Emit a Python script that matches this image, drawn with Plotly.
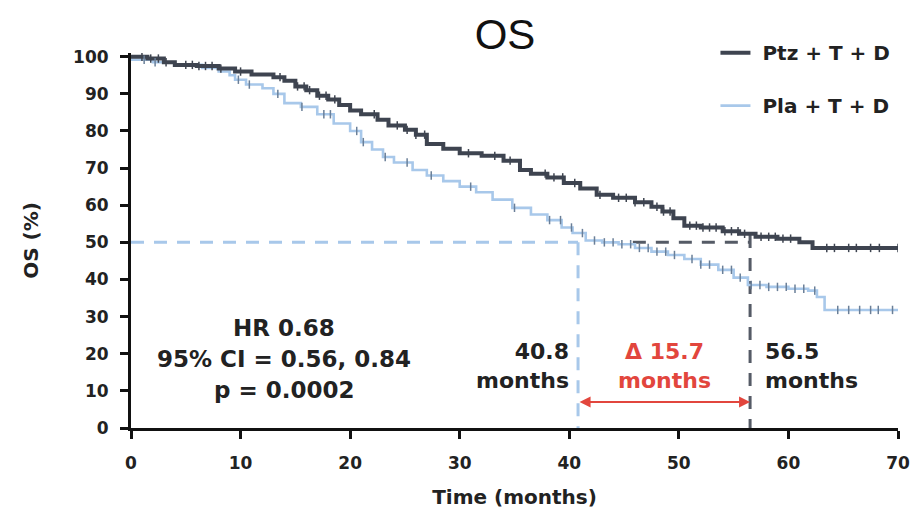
import numpy as np
import plotly.graph_objects as go

# ---------------- data ----------------
ptz_time = [0, 1.5, 3, 4, 6, 8, 9.5, 11, 13, 14, 15, 16, 17, 18, 19, 20, 21, 22.5, 23.5, 25,
            26, 27, 28.5, 30, 32, 34, 35.5, 36.5, 38, 39.5, 41, 42.5, 44, 46, 47.5, 48.5,
            49.5, 50.5, 52, 54, 55.5, 57, 59, 61, 62.2, 70]
ptz_surv = [100, 99.5, 98.5, 97.8, 97.5, 96.8, 96, 95.2, 94.5, 93.5, 92, 91, 89.5, 88.5, 87,
            85.5, 84.5, 83, 81.5, 80.3, 79, 76.5, 75.2, 74, 73.3, 72, 69.5, 68.5, 67.5, 66,
            64.5, 62.8, 62, 60.8, 59.6, 58.3, 56.5, 54.5, 54, 53, 52.3, 51.5, 51, 50, 48.5, 48.5]

pla_time = [0, 2, 4, 6.5, 8, 9, 9.5, 10.5, 12, 13, 14, 15.5, 17, 18.5, 20, 21, 22, 23, 24,
            25.7, 27, 28.5, 30, 31.5, 33, 34.8, 36.5, 38, 39.3, 40.3, 41.5, 43, 44.5, 46,
            47.5, 49, 50.5, 52, 53.6, 55, 56.3, 58, 60, 61.8, 62.6, 63.3, 70]
pla_surv = [99.2, 98.5, 97.8, 97, 96, 95, 93.8, 92.5, 91.5, 90, 87.5, 86.5, 84.5, 82, 80, 77,
            75, 73, 71.5, 69.5, 68, 66.5, 65, 63.5, 61.5, 59.3, 57.5, 56, 54, 52.5, 50.5, 50,
            49.5, 48.5, 47.5, 46.6, 45.5, 44, 42.6, 40.5, 38.5, 38, 37.5, 37, 35.3, 31.8, 31.8]

ptz_censor = [1, 1.8, 2.5, 3.2, 5, 5.6, 6.2, 6.8, 7.4, 8.2, 10, 13.6, 15.2, 15.8, 16.3, 17.2,
              17.8, 18.6, 22.2, 24.3, 25.2, 26, 26.8, 30.8, 33.2, 34.6, 37.8, 38.6, 39.4, 40.5,
              42.8, 44.5, 45.2, 46, 46.8, 48, 48.6, 49.2, 51, 51.6, 52.2, 52.8, 53.4, 54.2,
              54.8, 55.4, 56, 57.5, 58.2, 58.8, 59.5, 60.2, 63.5, 64.2, 65.5, 66.2, 67.5, 68.3, 70]
pla_censor = [1.2, 2.2, 9.8, 10.8, 13.4, 15.6, 17.6, 18.2, 20.6, 21.2, 23.2, 25.2, 27.4, 31,
              35, 38.2, 39.2, 40.2, 41.2, 42.3, 43.2, 44, 44.8, 45.6, 46.4, 47.2, 48, 48.8,
              49.6, 51.2, 52, 52.8, 54, 54.8, 55.6, 56.6, 57.4, 58.2, 59, 59.8, 60.6, 61.4,
              62.4, 64.5, 65.5, 66.5, 67.5, 68.2, 69.5]

median_pla = 40.8
median_ptz = 56.5
delta_months = 15.7
x_ticks = [0, 10, 20, 30, 40, 50, 60, 70]
y_ticks = [0, 10, 20, 30, 40, 50, 60, 70, 80, 90, 100]

DARK = "#3e4450"
LIGHT = "#a8c8ea"
LIGHT_TICK = "#6a7f98"
RED = "#e2463d"
FONT = "DejaVu Sans"
NB = "\u00a0"


def step_at(times, surv, pts):
    t = np.asarray(times)
    s = np.asarray(surv)
    idx = np.searchsorted(t, np.asarray(pts), side="right") - 1
    return s[np.clip(idx, 0, len(s) - 1)]


fig = go.Figure()

# reference dashed lines (median)
fig.add_trace(go.Scatter(x=[0, median_pla], y=[50, 50], mode="lines",
                         line=dict(color=LIGHT, width=3, dash="13px,10px"),
                         showlegend=False, hoverinfo="skip"))
fig.add_trace(go.Scatter(x=[median_pla, median_pla], y=[50, 0], mode="lines",
                         line=dict(color=LIGHT, width=3, dash="13px,10px"),
                         showlegend=False, hoverinfo="skip"))
fig.add_trace(go.Scatter(x=[median_pla + 5, median_ptz], y=[50, 50], mode="lines",
                         line=dict(color="#555b66", width=3, dash="13px,10px"),
                         showlegend=False, hoverinfo="skip"))
fig.add_trace(go.Scatter(x=[median_ptz, median_ptz], y=[52, 0], mode="lines",
                         line=dict(color="#555b66", width=3, dash="13px,10px"),
                         showlegend=False, hoverinfo="skip"))

# KM curves
fig.add_trace(go.Scatter(x=pla_time, y=pla_surv, mode="lines", line_shape="hv",
                         line=dict(color=LIGHT, width=2.6), name=f"<b>{NB}Pla + T + D</b>",
                         legendgroup="b", legendrank=2))
fig.add_trace(go.Scatter(x=ptz_time, y=ptz_surv, mode="lines", line_shape="hv",
                         line=dict(color=DARK, width=4), name=f"<b>{NB}Ptz + T + D</b>",
                         legendgroup="a", legendrank=1))

# censor marks
fig.add_trace(go.Scatter(x=pla_censor, y=step_at(pla_time, pla_surv, pla_censor), mode="markers",
                         marker=dict(symbol="line-ns", size=6, line=dict(color=LIGHT_TICK, width=1.5)),
                         showlegend=False, hoverinfo="skip"))
fig.add_trace(go.Scatter(x=ptz_censor, y=step_at(ptz_time, ptz_surv, ptz_censor), mode="markers",
                         marker=dict(symbol="line-ns", size=6, line=dict(color=DARK, width=1.5)),
                         showlegend=False, hoverinfo="skip"))

annotations = [
    dict(x=14, y=27, xref="x", yref="y", showarrow=False,
         text="<b>HR 0.68</b>", font=dict(family=FONT, size=23, color="#222")),
    dict(x=14, y=18.6, xref="x", yref="y", showarrow=False,
         text="<b>95% CI = 0.56, 0.84</b>", font=dict(family=FONT, size=23, color="#222")),
    dict(x=14, y=10.3, xref="x", yref="y", showarrow=False,
         text="<b>p = 0.0002</b>", font=dict(family=FONT, size=23, color="#222")),
    dict(x=median_pla - 0.6, y=16.7, xref="x", yref="y", showarrow=False, xanchor="right",
         align="right", text=f"<b>{median_pla}<br>months</b>",
         font=dict(family=FONT, size=22, color="#222")),
    dict(x=median_ptz + 1.2, y=16.7, xref="x", yref="y", showarrow=False, xanchor="left",
         align="left", text=f"<b>{median_ptz}<br>months</b>",
         font=dict(family=FONT, size=22, color="#222")),
    dict(x=(median_pla + median_ptz) / 2, y=16.7, xref="x", yref="y", showarrow=False,
         text=f"<b>Δ {delta_months}<br>months</b>",
         font=dict(family=FONT, size=22, color=RED)),
    dict(x=median_ptz, y=7, ax=median_pla, ay=7, xref="x", yref="y", axref="x", ayref="y",
         showarrow=True, arrowside="end+start", arrowhead=2, startarrowhead=2,
         arrowwidth=2.2, arrowcolor=RED, arrowsize=1, startarrowsize=1, text=""),
]

W, H = 914, 512
fig.update_layout(
    width=W, height=H,
    margin=dict(l=123, r=18, t=45, b=92),
    paper_bgcolor="white", plot_bgcolor="white",
    title=dict(text="OS", x=497 / W, xanchor="center", y=1 - 26 / H, yanchor="middle",
               font=dict(family="Liberation Sans", size=42, color="#111")),
    legend=dict(x=0.762, y=1.053, xanchor="left", yanchor="top", bgcolor="rgba(0,0,0,0)",
                font=dict(family=FONT, size=20, color="#222"), itemwidth=30,
                tracegroupgap=24, traceorder="grouped"),
    annotations=annotations,
    showlegend=True,
)
fig.update_xaxes(range=[0, 70], tickvals=x_ticks, showline=True, linecolor="#111", linewidth=3,
                 ticks="outside", ticklen=8, tickwidth=3, tickcolor="#111", showgrid=False,
                 zeroline=False, tickfont=dict(family=FONT, size=17, color="#222"),
                 ticklabelstandoff=10,
                 title=dict(text="<b>Time (months)</b>", standoff=18,
                            font=dict(family=FONT, size=20, color="#222")))
fig.update_yaxes(range=[0, 101], tickvals=y_ticks, showline=True, linecolor="#111", linewidth=3,
                 ticks="outside", ticklen=8, tickwidth=3, tickcolor="#111", showgrid=False,
                 zeroline=False, tickfont=dict(family=FONT, size=17, color="#222"),
                 ticklabelstandoff=8,
                 title=dict(text="<b>OS (%)</b>", standoff=30,
                            font=dict(family=FONT, size=20, color="#222")))
fig.update_xaxes(ticktext=[f"<b>{v}</b>" for v in x_ticks])
fig.update_yaxes(ticktext=[f"<b>{v}</b>" for v in y_ticks])

fig.write_html("out.html")
